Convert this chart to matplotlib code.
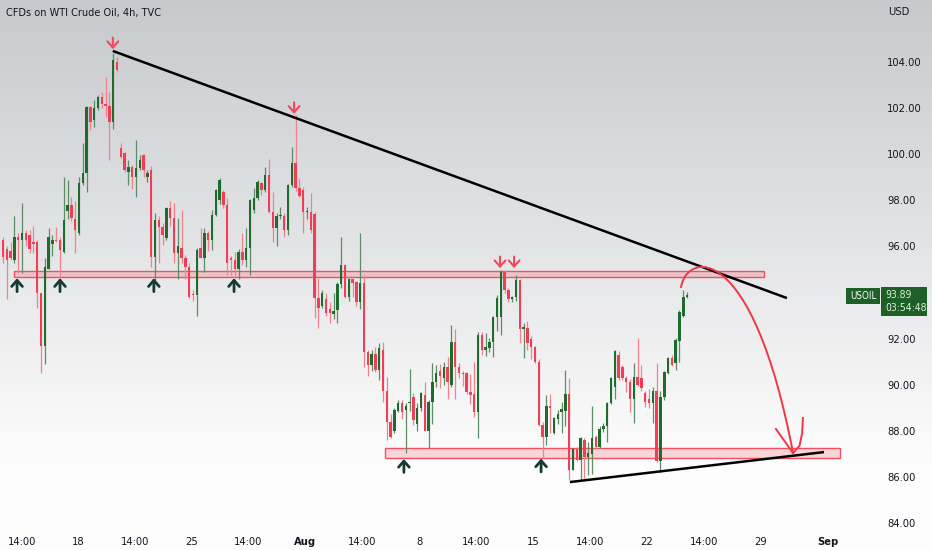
import matplotlib
matplotlib.use("Agg")
import matplotlib.pyplot as plt
import numpy as np
from matplotlib import font_manager
from matplotlib.path import Path
from matplotlib.patches import PathPatch, Rectangle

# prefer a narrow sans (the chart uses a condensed UI font)
narrow = [f for f in font_manager.fontManager.ttflist
          if ("Narrow" in f.name or "Condensed" in f.name
              or f.stretch in ("condensed", "semi-condensed"))
          and f.style == "normal" and str(f.weight) in ("400", "normal", "regular")]
if narrow:
    plt.rcParams["font.family"] = [narrow[0].name, "DejaVu Sans"]
    plt.rcParams["font.stretch"] = narrow[0].stretch
    title_size = 7.8
else:
    plt.rcParams["font.family"] = ["Liberation Sans", "DejaVu Sans"]
    title_size = 7.5

# 4h candles (x = bar number on the time axis)
opens = [
    96.3, 95.9, 95.8, 95.4, 96.4, 96.3, 96.6, 96.5, 96.2, 96.2,
    94.0, 91.7, 95.0, 96.1, 96.3, 96.3, 95.75, 97.55, 97.8, 97.2,
    96.6, 98.75, 99.2, 102.05, 101.5, 102.0, 102.5, 102.2, 102.1, 101.4,
    104.0, 100.27, 100.05, 99.25, 99.45, 99.0, 99.4, 99.95, 99.0, 99.3,
    95.55, 97.15, 96.85, 96.35, 97.65, 97.25, 95.7, 95.95, 95.5, 95.1,
    93.95, 93.9, 95.95, 95.5, 96.6, 96.3, 97.35, 98.0, 98.35, 97.8,
    95.5, 95.4, 95.0, 95.75, 95.4, 95.95, 97.6, 98.1, 98.75, 98.45,
    99.1, 97.5, 96.8, 97.3, 97.3, 96.7, 98.65, 99.6, 98.55, 98.45,
    97.5, 97.5, 97.4, 93.75, 93.4, 93.7, 93.3, 93.05, 93.25, 94.35,
    95.2, 93.8, 94.6, 94.45, 93.6, 94.4, 91.4, 90.85, 91.35, 90.65,
    91.5, 89.75, 88.4, 88.0, 88.85, 89.2, 88.9, 89.2, 89.45, 88.3,
    89.0, 89.55, 88.0, 89.25, 90.1, 90.6, 90.3, 90.75, 90.0, 91.85,
    90.75, 90.5, 90.5, 89.7, 89.6, 88.8, 92.15, 91.5, 91.6, 91.85,
    92.95, 92.95, 94.9, 94.1, 93.7, 93.8, 94.55, 92.4, 92.45, 92.0,
    91.65, 91.0, 88.25, 87.75, 89.1, 87.9, 88.5, 88.8, 88.85, 89.6,
    86.3, 87.2, 86.75, 87.6, 86.85, 87.0, 87.75, 87.3, 88.1, 88.2,
    89.2, 89.9, 91.3, 90.75, 90.3, 90.1, 89.4, 90.35, 90.3, 89.65,
    89.4, 89.2, 89.75, 86.7, 89.45, 90.5, 91.15, 90.95, 91.9, 93.0,
    93.8,
]
highs = [
    96.4, 96.0, 96.2, 97.3, 96.6, 97.9, 96.7, 96.7, 96.9, 96.3,
    94.0, 95.5, 96.8, 96.5, 96.85, 96.4, 99.0, 98.9, 98.15, 97.95,
    99.0, 100.5, 102.1, 102.1, 102.35, 102.55, 102.7, 103.35, 102.7, 104.4,
    104.2, 100.5, 100.1, 99.75, 99.55, 100.6, 99.95, 100.0, 99.3, 99.5,
    97.45, 97.3, 97.0, 97.7, 97.95, 97.9, 97.25, 97.6, 95.65, 95.3,
    94.1, 95.95, 96.8, 96.8, 96.65, 97.6, 98.5, 98.95, 98.45, 98.1,
    95.6, 95.75, 95.9, 96.6, 96.8, 98.05, 98.55, 98.9, 98.8, 99.45,
    99.8, 98.35, 97.45, 97.7, 97.45, 98.7, 100.3, 101.7, 98.95, 98.6,
    97.7, 98.3, 97.5, 94.65, 94.1, 94.0, 93.6, 94.0, 94.45, 96.4,
    95.25, 94.65, 94.65, 94.5, 96.6, 94.75, 91.5, 91.5, 91.65, 91.8,
    91.85, 90.35, 88.75, 89.0, 89.35, 89.35, 89.2, 90.7, 89.65, 89.2,
    89.7, 90.1, 89.35, 90.95, 90.85, 90.9, 91.0, 91.2, 92.6, 92.4,
    90.95, 90.6, 90.55, 90.45, 91.0, 92.3, 92.3, 92.25, 92.05, 93.0,
    93.9, 94.98, 94.98, 94.2, 93.85, 94.76, 94.6, 92.7, 92.75, 92.1,
    91.7, 91.1, 88.4, 89.55, 89.6, 88.6, 88.9, 89.25, 90.65, 90.3,
    87.25, 87.3, 87.75, 87.7, 87.5, 89.1, 87.8, 88.2, 88.35, 89.25,
    90.35, 91.5, 91.45, 90.85, 90.4, 90.25, 90.95, 92.05, 90.85, 89.75,
    89.8, 89.9, 90.95, 89.75, 90.6, 91.2, 91.3, 92.05, 93.25, 94.1,
    94.02,
]
lows = [
    95.3, 93.7, 95.4, 95.3, 94.85, 94.85, 96.0, 95.7, 95.7, 93.35,
    90.5, 90.9, 95.0, 95.6, 96.2, 94.55, 95.7, 97.2, 97.1, 95.7,
    96.5, 98.65, 98.35, 101.05, 101.2, 101.9, 102.0, 101.6, 99.75, 101.1,
    103.55, 99.83, 99.23, 98.66, 98.5, 98.15, 99.3, 99.0, 98.8, 95.1,
    94.55, 95.3, 96.05, 96.3, 96.9, 95.3, 94.6, 95.3, 94.6, 93.75,
    93.65, 93.0, 95.5, 94.9, 95.8, 95.85, 97.3, 97.85, 97.65, 94.75,
    94.75, 94.7, 94.6, 95.2, 95.1, 94.75, 97.45, 98.0, 98.25, 98.35,
    97.45, 96.2, 96.0, 97.2, 96.4, 96.5, 98.6, 98.4, 98.15, 96.6,
    97.2, 96.6, 92.9, 92.45, 93.35, 93.0, 92.7, 92.85, 92.7, 94.2,
    93.75, 93.65, 93.8, 93.4, 93.3, 90.75, 90.4, 90.6, 90.55, 90.2,
    89.25, 87.6, 87.7, 87.9, 88.8, 88.5, 87.05, 88.85, 88.25, 88.0,
    88.85, 88.0, 87.25, 88.3, 89.9, 89.85, 90.0, 89.4, 89.9, 89.4,
    90.3, 89.95, 89.6, 89.15, 88.6, 87.7, 91.3, 91.25, 91.4, 91.2,
    92.35, 92.15, 94.0, 93.6, 93.6, 93.65, 91.8, 91.15, 91.5, 91.1,
    90.95, 88.2, 86.85, 87.4, 87.9, 87.85, 88.3, 87.9, 88.2, 85.85,
    86.3, 86.7, 85.85, 85.9, 86.1, 86.15, 87.25, 87.25, 87.95, 87.5,
    89.15, 89.4, 90.2, 90.2, 89.7, 88.8, 88.35, 89.95, 89.75, 89.05,
    89.0, 88.35, 86.65, 86.2, 89.35, 90.45, 90.8, 90.65, 91.0, 92.95,
    93.75,
]
closes = [
    95.55, 95.4, 95.5, 96.4, 96.3, 96.6, 96.3, 95.9, 96.1, 94.0,
    91.7, 95.1, 96.4, 96.3, 96.25, 95.85, 97.15, 97.8, 97.25, 96.7,
    98.75, 99.2, 102.05, 101.4, 102.0, 102.5, 102.2, 102.1, 101.4, 104.1,
    103.65, 99.88, 99.3, 99.45, 99.0, 99.4, 99.75, 99.3, 99.2, 95.55,
    97.15, 96.85, 96.5, 97.65, 97.25, 95.7, 96.0, 95.5, 95.1, 93.8,
    93.9, 95.85, 95.5, 96.6, 96.3, 97.35, 98.45, 98.9, 97.8, 95.3,
    95.4, 95.0, 95.75, 95.4, 95.95, 98.0, 98.1, 98.8, 98.45, 99.1,
    97.5, 96.8, 97.3, 97.35, 96.7, 98.65, 99.6, 98.55, 98.2, 97.5,
    97.55, 96.7, 93.75, 93.35, 94.0, 93.1, 93.1, 93.2, 94.35, 95.2,
    93.8, 94.6, 94.4, 93.6, 94.4, 91.4, 90.85, 91.35, 90.65, 91.6,
    89.75, 88.4, 87.75, 88.9, 89.2, 88.8, 89.1, 89.25, 88.45, 89.0,
    89.65, 88.0, 89.25, 90.1, 90.5, 90.4, 90.75, 90.1, 91.85, 90.75,
    90.5, 90.45, 89.7, 89.55, 88.8, 92.15, 91.5, 91.65, 91.85, 92.95,
    93.75, 94.9, 94.1, 93.7, 93.8, 94.55, 92.4, 92.5, 91.8, 91.65,
    91.0, 88.25, 87.75, 89.1, 89.0, 88.55, 88.75, 88.95, 89.6, 86.3,
    87.2, 86.75, 87.7, 86.85, 87.05, 87.7, 87.3, 88.1, 88.2, 89.2,
    90.3, 91.45, 90.3, 90.3, 90.1, 89.4, 90.35, 90.0, 89.85, 89.25,
    89.2, 89.75, 86.7, 89.45, 90.55, 91.15, 90.85, 91.95, 93.15, 93.8,
    93.89,
]

# time axis labels (bar number where each label sits)
tick_labels = ["14:00", "18", "14:00", "25", "14:00", "Aug", "14:00", "8",
               "14:00", "15", "14:00", "22", "14:00", "29", "Sep"]
tick_bars = [4.9, 19.8, 34.8, 49.6, 64.6, 79.6, 94.4, 109.5, 124.5,
             139.5, 154.5, 169.5, 184.5, 199.5, 217.2]
price_ticks = [84, 86, 88, 90, 92, 96, 98, 100, 102, 104]

# drawings on the chart (bar number, price)
resistance_line = [(28.9, 104.48), (206.3, 93.76)]
support_line = [(149.2, 85.78), (216.05, 87.08)]
upper_zone = (2.9, 200.3, 94.67, 94.93)
lower_zone = (100.5, 220.3, 86.82, 87.25)
down_arrows = [(28.9, 104.56), (76.6, 101.75), (130.8, 95.06), (134.5, 95.06)]
up_arrows = [(3.7, 94.62), (15.0, 94.62), (39.7, 94.62), (60.8, 94.62),
             (105.5, 86.78), (141.6, 86.8)]
forecast_curve = [(178.4, 94.2), (179.7, 95.76), (197.1, 96.36), (207.9, 87.04)]
forecast_head = [(203.4, 88.08), (207.9, 87.04), (209.6, 87.35), (210.3, 87.9), (210.5, 88.56)]
last_price = "93.89"
countdown = "03:54:48"

W, H = 932, 550
fig = plt.figure(figsize=(W / 100, H / 100), dpi=100)

# background gradient (grey at top, white at bottom)
bg = fig.add_axes([0, 0, 1, 1], zorder=-5)
t = np.linspace(0, 1, 256)
top = np.array([0.78, 0.788, 0.805])
bot = np.array([0.992, 0.992, 0.992])
mix = np.clip(t / 0.85, 0, 1)[:, None]
grad = top * (1 - mix) + bot * mix
bg.imshow(grad[:, None, :], aspect="auto", extent=[0, 1, 0, 1])
bg.axis("off")

ax = fig.add_axes([0, 1 - 530 / H, 862 / W, 530 / H])
ax.set_facecolor("none")

o = np.array(opens)
h = np.array(highs)
l = np.array(lows)
c = np.array(closes)
x = np.arange(len(c))
up = c >= o
green, green_wick = "#1f6b2c", "#5e8c66"
red, red_wick = "#f03e56", "#f2808e"

ax.vlines(x[up], l[up], h[up], color=green_wick, lw=0.9, zorder=2)
ax.vlines(x[~up], l[~up], h[~up], color=red_wick, lw=0.9, zorder=2)
lo = np.minimum(o, c)
hgt = np.maximum(np.abs(c - o), 0.05)
ax.bar(x[up], hgt[up], bottom=lo[up], width=0.68, color=green, lw=0, zorder=3)
ax.bar(x[~up], hgt[~up], bottom=lo[~up], width=0.68, color=red, lw=0, zorder=3)

# zones
for x0, x1, p0, p1 in [upper_zone, lower_zone]:
    ax.add_patch(Rectangle((x0, p0), x1 - x0, p1 - p0, facecolor=(0.95, 0.3, 0.35, 0.22),
                           edgecolor="#f0505f", lw=1.0, zorder=1))

# trend lines
for line in [resistance_line, support_line]:
    xs, ys = zip(*line)
    ax.plot(xs, ys, color="black", lw=1.8, zorder=4, solid_capstyle="butt")

# arrows
head = "->,head_length=0.4,head_width=0.35"
for bx, p in down_arrows:
    ax.annotate("", xy=(bx, p), xytext=(bx, p + 0.5),
                arrowprops=dict(arrowstyle=head, color="#f2485c", lw=1.5,
                                mutation_scale=11, shrinkA=0, shrinkB=0),
                zorder=5)
for bx, p in up_arrows:
    ax.annotate("", xy=(bx, p), xytext=(bx, p - 0.58),
                arrowprops=dict(arrowstyle=head, color="#163a33", lw=2.0,
                                mutation_scale=11, shrinkA=0, shrinkB=0),
                zorder=5)

# projected move
codes = [Path.MOVETO, Path.CURVE4, Path.CURVE4, Path.CURVE4]
ax.add_patch(PathPatch(Path(forecast_curve, codes), facecolor="none",
                       edgecolor="#f23645", lw=1.4, zorder=5))
hx, hy = zip(*forecast_head[:2])
ax.plot(hx, hy, color="#f23645", lw=1.4, zorder=5)
hx, hy = zip(*forecast_head[1:])
ax.plot(hx, hy, color="#f23645", lw=1.4, zorder=5)

ax.set_xlim(-0.79, 226.05)
ax.set_ylim(83.70, 106.69)
for s in ax.spines.values():
    s.set_visible(False)
ax.yaxis.tick_right()
ax.set_yticks(price_ticks)
ax.set_yticklabels([f"{v:.2f}" for v in price_ticks])
ax.tick_params(axis="y", length=0, pad=18, labelsize=8, labelcolor="#131722")
ax.set_xticks(tick_bars)
ax.set_xticklabels(tick_labels)
ax.tick_params(axis="x", length=0, pad=5, labelsize=8, labelcolor="#131722")
for lab in ax.get_xticklabels():
    if lab.get_text() in ("Aug", "Sep"):
        lab.set_fontweight("bold")

fig.text(6 / W, 1 - 13 / H, "CFDs on WTI Crude Oil, 4h, TVC", fontsize=title_size,
         color="#131722", va="center", ha="left")
fig.text(888 / W, 1 - 12 / H, "USD", fontsize=8, color="#131722", va="center", ha="left")

# last price tags
box = "#1e5f27"
fig.add_artist(Rectangle((846 / W, 1 - 304 / H), 34 / W, 16 / H, transform=fig.transFigure,
                         facecolor=box, edgecolor="none"))
fig.add_artist(Rectangle((881 / W, 1 - 316 / H), 46 / W, 29 / H, transform=fig.transFigure,
                         facecolor=box, edgecolor="none"))
fig.text(863 / W, 1 - 296 / H, "USOIL", fontsize=7, color="white", va="center", ha="center")
fig.text(885 / W, 1 - 295 / H, last_price, fontsize=7.5, color="#d9f2d9", va="center", ha="left")
fig.text(885 / W, 1 - 308 / H, countdown, fontsize=7.5, color="#d9f2d9", va="center", ha="left")

fig.savefig("out.png", dpi=100)
